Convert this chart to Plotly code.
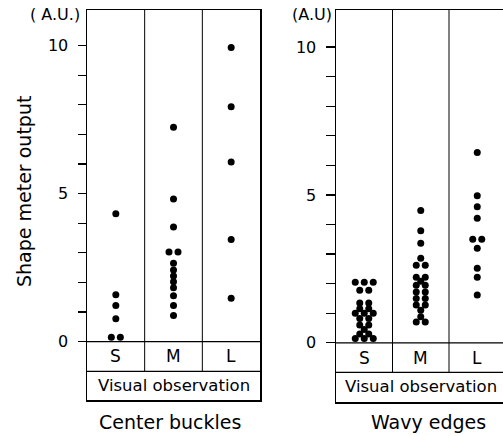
import plotly.graph_objects as go

# ---- data ----
categories = ["S", "M", "L"]

cb_S = [4.32, 1.58, 1.22, 0.77, 0.15, 0.15]
cb_M = [7.24, 4.82, 3.87, 3.03, 3.03, 2.65, 2.42, 2.22, 2.02, 1.82, 1.55, 1.22, 0.88]
cb_L = [9.93, 7.93, 6.07, 3.45, 1.47]

we_S = [2.05, 2.05, 2.05, 1.78, 1.78, 1.35, 1.35, 1.15, 1.15, 1.00, 1.00, 1.00,
        0.82, 0.82, 0.60, 0.60, 0.45, 0.30, 0.30, 0.15, 0.15, 0.15]
we_M = [4.47, 3.79, 3.37, 2.86, 2.62, 2.62, 2.22, 2.22, 2.08, 1.95, 1.95,
        1.72, 1.72, 1.50, 1.50, 1.28, 1.28, 1.10, 0.88, 0.70, 0.70]
we_L = [6.43, 4.97, 4.60, 4.21, 3.50, 3.50, 3.20, 2.52, 2.22, 1.62]

ytick_vals = list(range(0, 11))
ytick_text = ["0", "", "", "", "", "5", "", "", "", "", "10"]

W, H = 503, 436
FONT = "DejaVu Sans"


def px(xw):
    return xw / W


def py(yw):
    return (H - yw) / H


def dot_positions(groups, px_per_unit, gap_px=9.0):
    """Spread identical values side by side, symmetric about the category."""
    xs, ys = [], []
    for ci, vals in enumerate(groups):
        counts = {}
        for v in vals:
            counts[v] = counts.get(v, 0) + 1
        for v, n in counts.items():
            for i in range(n):
                off = (i - (n - 1) / 2.0) * gap_px / px_per_unit
                xs.append(ci + off)
                ys.append(v)
    return xs, ys


fig = go.Figure()

# panel geometry (pixels)
L_x0, L_x1 = 87, 260
R_x0 = 336
R_unit = 56.5

xl, yl = dot_positions([cb_S, cb_M, cb_L], (L_x1 - L_x0) / 3.0)
xr, yr = dot_positions([we_S, we_M, we_L], R_unit)

fig.add_trace(go.Scatter(x=xl, y=yl, mode="markers", xaxis="x", yaxis="y",
                         marker=dict(color="black", size=7), hoverinfo="skip",
                         showlegend=False))
fig.add_trace(go.Scatter(x=xr, y=yr, mode="markers", xaxis="x2", yaxis="y2",
                         marker=dict(color="black", size=7), hoverinfo="skip",
                         showlegend=False))

axis_common = dict(showgrid=False, zeroline=False, showline=True, linecolor="black",
                   linewidth=1.5)

fig.update_layout(
    width=W, height=H,
    margin=dict(l=0, r=0, t=0, b=0),
    paper_bgcolor="white", plot_bgcolor="white",
    font=dict(family=FONT, color="black"),
    xaxis=dict(domain=[px(L_x0), px(L_x1)], range=[-0.5, 2.5], showticklabels=False,
               ticks="", mirror=True, **axis_common),
    yaxis=dict(domain=[py(400), py(10)], range=[-1.97, 11.2],
               tickvals=ytick_vals, ticktext=ytick_text, ticks="outside", ticklen=8,
               tickwidth=1.2, tickcolor="black", ticklabelstandoff=6,
               tickfont=dict(size=16, family=FONT), mirror=True, **axis_common),
    xaxis2=dict(domain=[px(R_x0), 1.0], range=[-0.5, -0.5 + (W - R_x0) / R_unit],
                showticklabels=False, ticks="", anchor="y2", mirror=True, **axis_common),
    yaxis2=dict(domain=[py(402), py(10)], range=[-2.0, 11.25], anchor="x2",
                tickvals=ytick_vals, ticktext=ytick_text, ticks="outside", ticklen=9,
                tickwidth=1.2, tickcolor="black", ticklabelstandoff=6,
                tickfont=dict(size=16, family=FONT), mirror=False, **axis_common),
)

shapes = []
annotations = []
for xa, ya, top in (("x", "y", 11.2), ("x2", "y2", 11.25)):
    for yv in (0, -1):
        shapes.append(dict(type="line", xref=xa, yref=ya, x0=-0.5, x1=2.5, y0=yv, y1=yv,
                           line=dict(color="black", width=1.3)))
    for xv in (0.5, 1.5):
        shapes.append(dict(type="line", xref=xa, yref=ya, x0=xv, x1=xv, y0=-1, y1=top,
                           line=dict(color="black", width=1.0)))
    for i, c in enumerate(categories):
        annotations.append(dict(x=i, y=-0.5, xref=xa, yref=ya, text=c, showarrow=False,
                                font=dict(size=17, family=FONT), yanchor="middle"))
    annotations.append(dict(x=1, y=-1.48, xref=xa, yref=ya, text="Visual observation",
                            showarrow=False, font=dict(size=16.5, family=FONT),
                            yanchor="middle"))

fig.update_layout(shapes=shapes)

annotations += [
    dict(x=px(82), y=py(15), xref="paper", yref="paper", text="( A.U.)",
         showarrow=False, xanchor="right", yanchor="middle", font=dict(size=16)),
    dict(x=px(334), y=py(15), xref="paper", yref="paper", text="(A.U)",
         showarrow=False, xanchor="right", yanchor="middle", font=dict(size=16)),
    dict(x=px(24), y=py(192), xref="paper", yref="paper", text="Shape meter output",
         showarrow=False, textangle=-90, xanchor="center", yanchor="middle",
         font=dict(size=19)),
    dict(x=px(170), y=py(422), xref="paper", yref="paper", text="Center buckles",
         showarrow=False, xanchor="center", yanchor="middle", font=dict(size=19)),
    dict(x=px(428), y=py(422), xref="paper", yref="paper", text="Wavy edges",
         showarrow=False, xanchor="center", yanchor="middle", font=dict(size=19)),
]
fig.update_layout(annotations=annotations)

fig.write_html(
    "out.html",
    config={"displayModeBar": False, "staticPlot": True},
    post_script=("document.documentElement.style.overflow='hidden';"
                 "document.body.style.overflow='hidden';"
                 "document.body.style.margin='0';"),
)
